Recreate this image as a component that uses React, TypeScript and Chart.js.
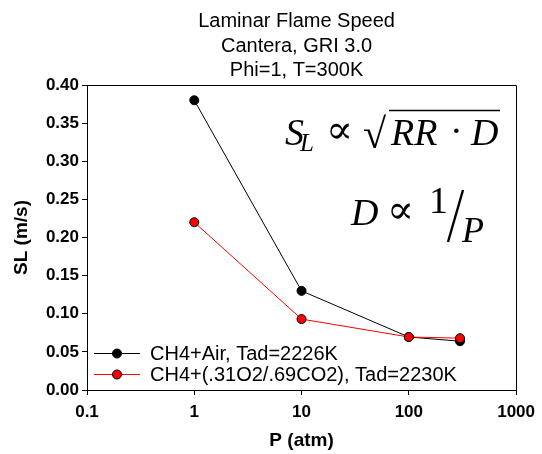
import React, { useEffect, useRef } from "react";
import { Chart, registerables } from "chart.js";

Chart.register(...registerables);

const TITLE_LINES = ["Laminar Flame Speed", "Cantera, GRI 3.0", "Phi=1, T=300K"];
const PRESSURE = [1, 10, 100, 300];
const SL_AIR = [0.38, 0.13, 0.0695, 0.064];
const SL_OXY = [0.22, 0.093, 0.0695, 0.068];
const SERIES_NAMES = ["CH4+Air, Tad=2226K", "CH4+(.31O2/.69CO2), Tad=2230K"];
const SERIES_COLORS = ["#000000", "#ff0000"];
const X_TICKS = [0.1, 1, 10, 100, 1000];
const X_TICK_LABELS = ["0.1", "1", "10", "100", "1000"];
const Y_MIN = 0;
const Y_MAX = 0.4;
const Y_STEP = 0.05;
const X_TITLE = "P (atm)";
const Y_TITLE = "SL (m/s)";

const SANS = "'Liberation Sans', Arial, sans-serif";
const SERIF = "'Liberation Serif', 'DejaVu Serif', serif";

const framePlugin = {
  id: "frame",
  afterDraw(chart: any) {
    const { ctx, chartArea: a } = chart;
    ctx.save();
    ctx.strokeStyle = "#000";
    ctx.lineWidth = 1;
    ctx.beginPath();
    ctx.moveTo(Math.round(a.left) + 0.5, Math.round(a.top) + 0.5);
    ctx.lineTo(Math.round(a.right) + 0.5, Math.round(a.top) + 0.5);
    ctx.lineTo(Math.round(a.right) + 0.5, Math.round(a.bottom) + 0.5);
    ctx.stroke();
    ctx.restore();
  },
};

const titlePlugin = {
  id: "titleLines",
  afterDraw(chart: any) {
    const { ctx, chartArea: a } = chart;
    ctx.save();
    ctx.fillStyle = "#000";
    ctx.font = `20px ${SANS}`;
    ctx.textAlign = "center";
    ctx.textBaseline = "alphabetic";
    const cx = (a.left + a.right) / 2 - 5;
    const offs = [58, 33, 9];
    TITLE_LINES.forEach((t, i) => ctx.fillText(t, cx, a.top - offs[i]));
    ctx.restore();
  },
};

const legendPlugin = {
  id: "legendBox",
  afterDraw(chart: any) {
    const { ctx, chartArea: a } = chart;
    ctx.save();
    SERIES_NAMES.forEach((name, i) => {
      const y = a.bottom - 37 + i * 21;
      const c = SERIES_COLORS[i];
      ctx.strokeStyle = c;
      ctx.lineWidth = 1;
      ctx.beginPath();
      ctx.moveTo(a.left + 7, y + 0.5);
      ctx.lineTo(a.left + 53, y + 0.5);
      ctx.stroke();
      ctx.beginPath();
      ctx.arc(a.left + 30, y + 0.5, 4.5, 0, Math.PI * 2);
      ctx.fillStyle = c;
      ctx.fill();
      ctx.strokeStyle = "#000";
      ctx.stroke();
      ctx.fillStyle = "#000";
      ctx.font = `20px ${SANS}`;
      ctx.textAlign = "left";
      ctx.textBaseline = "middle";
      ctx.fillText(name, a.left + 63, y + 1);
    });
    ctx.restore();
  },
};

const equationPlugin = {
  id: "equations",
  afterDraw(chart: any) {
    const { ctx, chartArea: a } = chart;
    const L = a.left;
    const T = a.top;
    ctx.save();
    ctx.fillStyle = "#000";
    ctx.strokeStyle = "#000";
    ctx.textBaseline = "alphabetic";
    ctx.textAlign = "left";
    // line 1: S_L ∝ sqrt(RR · D)
    const b1 = T + 60;
    ctx.font = `italic 38px ${SERIF}`;
    ctx.fillText("S", L + 198, b1);
    ctx.font = `italic 25px ${SERIF}`;
    ctx.fillText("L", L + 213, b1 + 6);
    ctx.font = `40px ${SERIF}`;
    ctx.fillText("\u221D", L + 239, b1 - 2);
    ctx.font = `42px ${SERIF}`;
    ctx.fillText("\u221A", L + 276, b1 + 3);
    ctx.lineWidth = 1.6;
    ctx.beginPath();
    ctx.moveTo(L + 302, T + 25.5);
    ctx.lineTo(L + 413, T + 25.5);
    ctx.stroke();
    ctx.font = `italic 38px ${SERIF}`;
    ctx.fillText("RR", L + 304, b1);
    ctx.font = `38px ${SERIF}`;
    ctx.fillText("\u00B7", L + 363, b1 - 2);
    ctx.font = `italic 38px ${SERIF}`;
    ctx.fillText("D", L + 384, b1);
    // line 2: D ∝ 1/P
    const b2 = T + 140;
    ctx.fillText("D", L + 264, b2);
    ctx.font = `40px ${SERIF}`;
    ctx.fillText("\u221D", L + 300, b2 - 2);
    ctx.font = `38px ${SERIF}`;
    ctx.fillText("1", L + 342, b2 - 12);
    ctx.lineWidth = 2.4;
    ctx.beginPath();
    ctx.moveTo(L + 361, T + 157);
    ctx.lineTo(L + 376, T + 105);
    ctx.stroke();
    ctx.font = `italic 36px ${SERIF}`;
    ctx.fillText("P", L + 375, b2 + 17);
    ctx.restore();
  },
};

export default function App() {
  const ref = useRef<HTMLCanvasElement | null>(null);
  useEffect(() => {
    if (!ref.current) return;
    const mk = (ys: number[]) => PRESSURE.map((x, i) => ({ x, y: ys[i] }));
    const chart = new Chart(ref.current, {
      type: "line",
      data: {
        datasets: [
          {
            label: SERIES_NAMES[0],
            data: mk(SL_AIR),
            borderColor: SERIES_COLORS[0],
            backgroundColor: SERIES_COLORS[0],
            pointBackgroundColor: SERIES_COLORS[0],
            pointBorderColor: "#000",
            borderWidth: 1,
            pointRadius: 4.5,
            pointBorderWidth: 1,
            order: 1,
          },
          {
            label: SERIES_NAMES[1],
            data: mk(SL_OXY),
            borderColor: SERIES_COLORS[1],
            backgroundColor: SERIES_COLORS[1],
            pointBackgroundColor: SERIES_COLORS[1],
            pointBorderColor: "#000",
            borderWidth: 1,
            pointRadius: 4.5,
            pointBorderWidth: 1,
            order: 0,
          },
        ],
      },
      options: {
        responsive: false,
        animation: false,
        devicePixelRatio: 1,
        layout: { padding: { top: 85, right: 20, left: 0, bottom: 0 } },
        plugins: {
          legend: { display: false },
          title: { display: false },
          tooltip: { enabled: false },
        },
        scales: {
          x: {
            type: "logarithmic",
            min: X_TICKS[0],
            max: X_TICKS[X_TICKS.length - 1],
            afterBuildTicks: (s: any) => {
              s.ticks = X_TICKS.map((v) => ({ value: v }));
            },
            afterFit: (s: any) => {
              s.height = 64;
            },
            ticks: {
              autoSkip: false,
              maxRotation: 0,
              padding: 7,
              color: "#000",
              font: { family: SANS, size: 17, weight: "bold" },
              callback: (v: any) => {
                const i = X_TICKS.findIndex((t) => Math.abs(t - Number(v)) < 1e-9);
                return i >= 0 ? X_TICK_LABELS[i] : "";
              },
            },
            grid: { display: true, drawOnChartArea: false, drawTicks: true, tickLength: 5, tickColor: "#000", color: "#000" },
            border: { display: true, color: "#000", width: 1 },
            title: {
              display: true,
              text: X_TITLE,
              color: "#000",
              font: { family: SANS, size: 19, weight: "bold" },
              padding: { top: 0, bottom: 2 },
            },
          },
          y: {
            type: "linear",
            min: Y_MIN,
            max: Y_MAX,
            afterFit: (s: any) => {
              s.width = 87;
            },
            ticks: {
              stepSize: Y_STEP,
              padding: 3,
              color: "#000",
              font: { family: SANS, size: 17, weight: "bold" },
              callback: (v: any) => Number(v).toFixed(2),
            },
            grid: { display: true, drawOnChartArea: false, drawTicks: true, tickLength: 5, tickColor: "#000", color: "#000" },
            border: { display: true, color: "#000", width: 1 },
            title: {
              display: true,
              text: Y_TITLE,
              color: "#000",
              font: { family: SANS, size: 19, weight: "bold" },
              padding: { top: 10, bottom: 0 },
            },
          },
        },
      },
      plugins: [framePlugin, titlePlugin, legendPlugin, equationPlugin],
    } as any);
    return () => chart.destroy();
  }, []);
  return (
    <div style={{ position: "absolute", left: 0, top: 0, width: 542, height: 454, background: "#fff" }}>
      <canvas ref={ref} width={542} height={454} style={{ display: "block" }} />
    </div>
  );
}
